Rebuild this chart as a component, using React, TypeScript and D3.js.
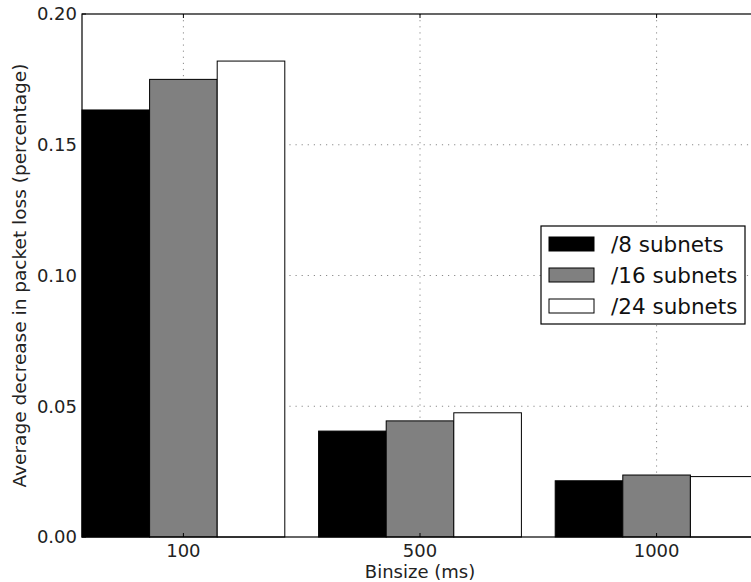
import React, { useRef, useEffect } from "react";
import * as d3 from "d3";

const binsizes = ["100", "500", "1000"];
const series = ["/8 subnets", "/16 subnets", "/24 subnets"];
const fills = ["#000000", "#808080", "#ffffff"];
const values = [
  [0.1633, 0.0405, 0.0215], // /8
  [0.175, 0.0444, 0.0237], // /16
  [0.182, 0.0475, 0.0231], // /24
];
const yTicks = [0, 0.05, 0.1, 0.15, 0.2];

export default function App() {
  const ref = useRef<SVGSVGElement>(null);

  const width = 751;
  const height = 582;
  const left = 82;
  const right = 758; // right spine falls just outside the picture
  const top = 14;
  const bottom = 537;
  const font = "DejaVu Sans, sans-serif";

  useEffect(() => {
    const svg = d3.select(ref.current);
    svg.selectAll("*").remove();

    const x = d3
      .scaleBand<string>()
      .domain(binsizes)
      .range([left, right])
      .paddingInner(1 / 7)
      .paddingOuter(0);

    const xs = d3
      .scaleBand<string>()
      .domain(series)
      .range([0, x.bandwidth()]);

    const y = d3.scaleLinear().domain([0, 0.2]).range([bottom, top]);

    const grid = svg.append("g");
    grid
      .selectAll("line.h")
      .data(yTicks.slice(1, -1))
      .join("line")
      .attr("x1", left)
      .attr("x2", right)
      .attr("y1", (d) => y(d))
      .attr("y2", (d) => y(d));
    grid
      .selectAll("line.v")
      .data(binsizes)
      .join("line")
      .attr("x1", (d) => x(d)! + x.bandwidth() / 2)
      .attr("x2", (d) => x(d)! + x.bandwidth() / 2)
      .attr("y1", top)
      .attr("y2", bottom);
    grid
      .selectAll("line")
      .attr("stroke", "#8a8a8a")
      .attr("stroke-width", 1)
      .attr("stroke-dasharray", "1.2,4.9");

    series.forEach((s, si) => {
      svg
        .append("g")
        .selectAll("rect")
        .data(binsizes)
        .join("rect")
        .attr("x", (d) => x(d)! + xs(s)!)
        .attr("width", xs.bandwidth())
        .attr("y", (d, i) => y(values[si][i]))
        .attr("height", (d, i) => bottom - y(values[si][i]))
        .attr("fill", fills[si])
        .attr("stroke", "#000")
        .attr("stroke-width", 1);
    });

    // spines
    svg
      .append("rect")
      .attr("x", left)
      .attr("y", top)
      .attr("width", right - left)
      .attr("height", bottom - top)
      .attr("fill", "none")
      .attr("stroke", "#000")
      .attr("stroke-width", 1.2);

    // inward ticks
    const ticks = svg.append("g").attr("stroke", "#000").attr("stroke-width", 1);
    yTicks.forEach((t) => {
      ticks.append("line").attr("x1", left).attr("x2", left + 4).attr("y1", y(t)).attr("y2", y(t));
    });
    binsizes.forEach((b) => {
      const cx = x(b)! + x.bandwidth() / 2;
      ticks.append("line").attr("x1", cx).attr("x2", cx).attr("y1", bottom).attr("y2", bottom - 4);
      ticks.append("line").attr("x1", cx).attr("x2", cx).attr("y1", top).attr("y2", top + 4);
    });

    svg
      .append("g")
      .selectAll("text")
      .data(yTicks)
      .join("text")
      .attr("x", left - 5)
      .attr("y", (d) => y(d))
      .attr("dy", "0.35em")
      .attr("text-anchor", "end")
      .attr("font-size", 18)
      .attr("font-family", font)
      .attr("fill", "#222")
      .text((d) => d3.format(".2f")(d));

    svg
      .append("g")
      .selectAll("text")
      .data(binsizes)
      .join("text")
      .attr("x", (d) => x(d)! + x.bandwidth() / 2)
      .attr("y", bottom + 20)
      .attr("text-anchor", "middle")
      .attr("font-size", 18)
      .attr("font-family", font)
      .attr("fill", "#222")
      .text((d) => d);

    svg
      .append("text")
      .attr("x", 420)
      .attr("y", 578)
      .attr("text-anchor", "middle")
      .attr("font-size", 18)
      .attr("font-family", font)
      .attr("fill", "#222")
      .text("Binsize (ms)");

    svg
      .append("text")
      .attr("transform", `translate(26, ${(top + bottom) / 2}) rotate(-90)`)
      .attr("text-anchor", "middle")
      .attr("font-size", 18.5)
      .attr("font-family", font)
      .attr("fill", "#222")
      .text("Average decrease in packet loss (percentage)");

    // legend
    const lg = svg.append("g");
    lg.append("rect")
      .attr("x", 541)
      .attr("y", 226)
      .attr("width", 204)
      .attr("height", 98)
      .attr("fill", "#fff")
      .attr("stroke", "#000")
      .attr("stroke-width", 1.2);
    series.forEach((s, i) => {
      const cy = 244 + i * 31;
      lg.append("rect")
        .attr("x", 549)
        .attr("y", cy - 7)
        .attr("width", 45)
        .attr("height", 14)
        .attr("fill", fills[i])
        .attr("stroke", "#000")
        .attr("stroke-width", 1);
      lg.append("text")
        .attr("x", 611)
        .attr("y", cy)
        .attr("dy", "0.35em")
        .attr("font-size", 21.5)
        .attr("font-family", font)
        .attr("fill", "#111")
        .text(s);
    });
  }, []);

  return (
    <svg
      ref={ref}
      width={width}
      height={height}
      style={{ position: "absolute", left: 0, top: 0, background: "#fff" }}
    ></svg>
  );
}
